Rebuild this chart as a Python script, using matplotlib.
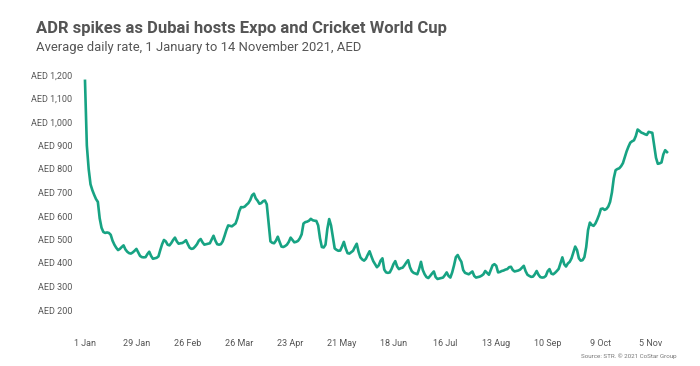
import matplotlib
matplotlib.use("Agg")
import matplotlib.pyplot as plt
import pandas as pd

# ---------------------------------------------
#   Data: daily ADR (AED), 1 Jan - 14 Nov 2021
# ---------------------------------------------
adr = [
    1175, 900, 800, 735, 710, 690, 672, 660, 590, 550,
    532, 528, 530, 528, 520, 495, 478, 465, 455, 460,
    468, 475, 458, 448, 442, 440, 445, 452, 460, 445,
    430, 425, 424, 425, 438, 448, 430, 418, 420, 422,
    428, 455, 480, 498, 492, 478, 475, 485, 498, 508,
    492, 482, 484, 485, 490, 497, 480, 465, 460, 462,
    470, 480, 495, 502, 488, 478, 480, 482, 484, 500,
    516, 495, 480, 478, 480, 492, 515, 540, 560, 558,
    556, 562, 568, 590, 620, 638, 637, 640, 648, 655,
    668, 688, 695, 675, 665, 652, 655, 663, 666, 650,
    570, 492, 486, 484, 495, 512, 490, 470, 468, 472,
    478, 490, 508, 498, 488, 490, 494, 505, 522, 568,
    574, 576, 580, 588, 582, 580, 579, 560, 505, 468,
    466, 478, 545, 587, 560, 510, 462, 456, 452, 453,
    470, 490, 462, 442, 440, 446, 452, 468, 482, 448,
    424, 415, 410, 418, 435, 450, 428, 408, 395, 382,
    390, 410, 420, 372, 360, 358, 360, 375, 395, 408,
    385, 374, 378, 380, 390, 402, 412, 382, 365, 358,
    355, 352, 375, 405, 370, 352, 340, 336, 345, 355,
    364, 340, 332, 334, 336, 338, 348, 360, 345, 338,
    360, 390, 425, 434, 418, 405, 370, 358, 355, 352,
    358, 364, 345, 338, 340, 342, 346, 352, 366, 358,
    350, 370, 390, 395, 388, 360, 362, 366, 368, 372,
    374, 382, 384, 370, 364, 366, 368, 372, 380, 388,
    365, 350, 345, 341, 342, 352, 366, 350, 340, 338,
    339, 345, 365, 374, 355, 352, 358, 366, 375, 400,
    424, 395, 385, 398, 405, 420, 445, 470, 455, 420,
    410, 412, 425, 468, 540, 572, 562, 558, 568, 585,
    605, 630, 632, 626, 630, 640, 660, 700, 760, 795,
    800, 803, 812, 825, 850, 875, 895, 912, 918, 922,
    940, 968, 962, 955, 952, 948, 945, 958, 956, 954,
    900, 848, 822, 824, 828, 862, 880, 872,
]
dates = pd.date_range("2021-01-01", "2021-11-14", freq="D")

tick_dates = ["2021-01-01", "2021-01-29", "2021-02-26", "2021-03-26",
              "2021-04-23", "2021-05-21", "2021-06-18", "2021-07-16",
              "2021-08-13", "2021-09-10", "2021-10-09", "2021-11-05"]
tick_labels = ["1 Jan", "29 Jan", "26 Feb", "26 Mar", "23 Apr", "21 May",
               "18 Jun", "16 Jul", "13 Aug", "10 Sep", "9 Oct", "5 Nov"]
y_ticks = [200, 300, 400, 500, 600, 700, 800, 900, 1000, 1100, 1200]
y_labels = ["AED {:,}".format(v) for v in y_ticks]

# ---------------------------------------------
#                  Figure
# ---------------------------------------------
plt.rcParams["font.family"] = ["Roboto", "DejaVu Sans"]
grey = "#555555"
line_col = "#17a383"

fig = plt.figure(figsize=(7, 3.66), dpi=100)
ax = fig.add_axes([85 / 700, (366 - 310) / 366, 582 / 700, 235 / 366])

ax.plot(dates, adr, color=line_col, lw=1.9, solid_joinstyle="round",
        clip_on=False)

ax.set_ylim(200, 1200)
ax.set_yticks(y_ticks)
ax.set_yticklabels(y_labels)
ax.set_xlim(dates[0], dates[-1])
ax.set_xticks(pd.to_datetime(tick_dates))
ax.set_xticklabels(tick_labels)

for s in ax.spines.values():
    s.set_visible(False)
ax.tick_params(axis="both", length=0, colors=grey, labelsize=6.5)
ax.tick_params(axis="y", pad=9)
ax.tick_params(axis="x", pad=21)

fig.text(36 / 700, 1 - 28 / 366, "ADR spikes as Dubai hosts Expo and Cricket World Cup",
         fontsize=12, fontweight="bold", color=grey, va="center")
fig.text(36 / 700, 1 - 48 / 366, "Average daily rate, 1 January to 14 November 2021, AED",
         fontsize=9.4, color=grey, va="center")
fig.text(677 / 700, 1 - 356 / 366, "Source: STR. \u00a9 2021 CoStar Group",
         fontsize=4.5, color="#777777", ha="right", va="center")

fig.savefig("out.png", dpi=100)
